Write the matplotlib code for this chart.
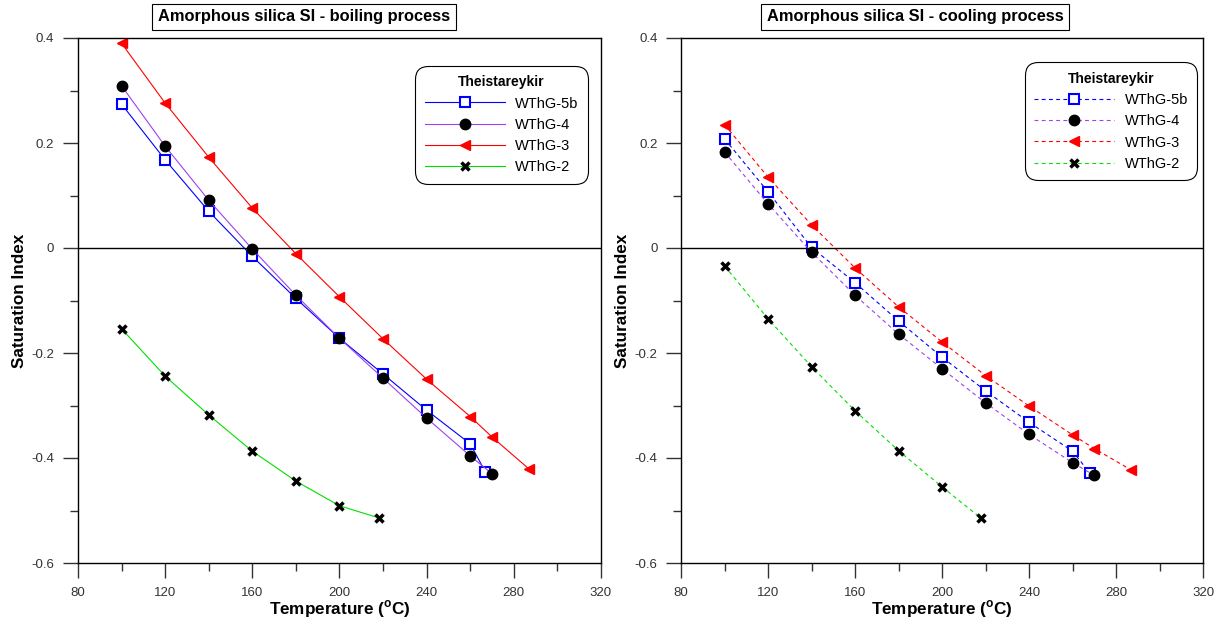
import matplotlib
matplotlib.use('Agg')
import matplotlib.pyplot as plt
from matplotlib.ticker import MultipleLocator

plt.rcParams['font.family'] = ['Liberation Sans', 'DejaVu Sans']
plt.rcParams['axes.unicode_minus'] = False
plt.rcParams['mathtext.fontset'] = 'custom'
plt.rcParams['mathtext.rm'] = 'Liberation Sans'
plt.rcParams['mathtext.bf'] = 'Liberation Sans:bold'

# boiling process
boil_x_5b = [100, 120, 140, 160, 180, 200, 220, 240, 260, 267]
boil_y_5b = [0.274, 0.168, 0.070, -0.016, -0.096, -0.172, -0.240, -0.309, -0.373, -0.427]
boil_x_4 = [100, 120, 140, 160, 180, 200, 220, 240, 260, 270]
boil_y_4 = [0.309, 0.194, 0.091, -0.002, -0.090, -0.172, -0.248, -0.324, -0.396, -0.430]
boil_x_3 = [100, 120, 140, 160, 180, 200, 220, 240, 260, 270, 287]
boil_y_3 = [0.390, 0.276, 0.173, 0.076, -0.011, -0.093, -0.173, -0.250, -0.321, -0.360, -0.421]
boil_x_2 = [100, 120, 140, 160, 180, 200, 218]
boil_y_2 = [-0.154, -0.244, -0.318, -0.387, -0.444, -0.491, -0.514]

# cooling process
cool_x_5b = [100, 120, 140, 160, 180, 200, 220, 240, 260, 268]
cool_y_5b = [0.208, 0.107, 0.001, -0.066, -0.139, -0.208, -0.272, -0.332, -0.387, -0.429]
cool_x_4 = [100, 120, 140, 160, 180, 200, 220, 240, 260, 270]
cool_y_4 = [0.183, 0.084, -0.008, -0.090, -0.164, -0.230, -0.295, -0.355, -0.409, -0.433]
cool_x_3 = [100, 120, 140, 160, 180, 200, 220, 240, 260, 270, 287]
cool_y_3 = [0.235, 0.135, 0.044, -0.038, -0.112, -0.179, -0.243, -0.301, -0.356, -0.382, -0.423]
cool_x_2 = [100, 120, 140, 160, 180, 200, 218]
cool_y_2 = [-0.034, -0.135, -0.226, -0.310, -0.386, -0.455, -0.515]

labels = ['WThG-5b', 'WThG-4', 'WThG-3', 'WThG-2']
line_colors = ['#0000FF', '#A040F0', '#FF0000', '#00E000']

fig = plt.figure(figsize=(12.26, 6.25), dpi=100)
ax1 = fig.add_axes([0.0636, 0.0992, 0.4266, 0.84])
ax2 = fig.add_axes([0.5555, 0.0992, 0.4258, 0.84])


def draw_panel(ax, series, ls, title, title_x, leg_anchor):
    styles = [
        dict(marker='s', ms=6.5, mfc='white', mec='#0000FF', mew=1.5),
        dict(marker='o', ms=7.5, mfc='black', mec='black'),
        dict(marker='<', ms=6.5, mfc='#FF0000', mec='#FF0000'),
        dict(marker='x', ms=5.5, mec='black', mew=2.5),
    ]
    for (xs, ys), lab, col, st in zip(series, labels, line_colors, styles):
        ax.plot(xs, ys, color=col, lw=0.8, ls=ls, label=lab, **st)

    ax.axhline(0, color='black', lw=1)
    ax.set_xlim(80, 320)
    ax.set_ylim(-0.6, 0.4)
    ax.xaxis.set_major_locator(MultipleLocator(40))
    ax.xaxis.set_minor_locator(MultipleLocator(20))
    ax.yaxis.set_minor_locator(MultipleLocator(0.1))
    ax.set_yticks([0.4, 0.2, 0, -0.2, -0.4, -0.6])
    ax.set_yticklabels(['0.4', '0.2', '0', '-0.2', '-0.4', '-0.6'])
    ax.tick_params(which='major', direction='out', length=11, width=1, labelsize=9.5, pad=6, colors='#333333')
    ax.tick_params(which='minor', direction='out', length=6, width=1, colors='#333333')
    ax.tick_params(axis='x', which='major', pad=6)
    for sp in ax.spines.values():
        sp.set_linewidth(1)
    ax.set_xlabel('Temperature ($^{\\mathbf{o}}$C)', fontsize=12.3, fontweight='bold', labelpad=0)
    ax.set_ylabel('Saturation Index', fontsize=12.3, fontweight='bold', labelpad=3)

    ax.text(title_x, 1.04, title, transform=ax.transAxes, ha='center', va='center',
            fontsize=11.8, fontweight='bold',
            bbox=dict(boxstyle='square,pad=0.35', facecolor='white', edgecolor='black', lw=0.8))

    leg = ax.legend(loc='upper right', bbox_to_anchor=leg_anchor, borderaxespad=0,
                    title='Theistareykir', title_fontproperties={'weight': 'bold', 'size': 10},
                    fontsize=10.5, handlelength=5.5, handletextpad=0.7, labelspacing=0.5,
                    frameon=True, fancybox=True, edgecolor='black', framealpha=1,
                    borderpad=0.65)
    leg.get_frame().set_linewidth(0.8)
    leg.get_frame().set_boxstyle('round,pad=0,rounding_size=0.9')


draw_panel(ax1, [(boil_x_5b, boil_y_5b), (boil_x_4, boil_y_4), (boil_x_3, boil_y_3), (boil_x_2, boil_y_2)],
           '-', 'Amorphous silica SI - boiling process', 0.432, (0.975, 0.947))
draw_panel(ax2, [(cool_x_5b, cool_y_5b), (cool_x_4, cool_y_4), (cool_x_3, cool_y_3), (cool_x_2, cool_y_2)],
           (0, (3.5, 3)), 'Amorphous silica SI - cooling process', 0.448, (0.989, 0.954))

plt.savefig('out.png', dpi=100)
